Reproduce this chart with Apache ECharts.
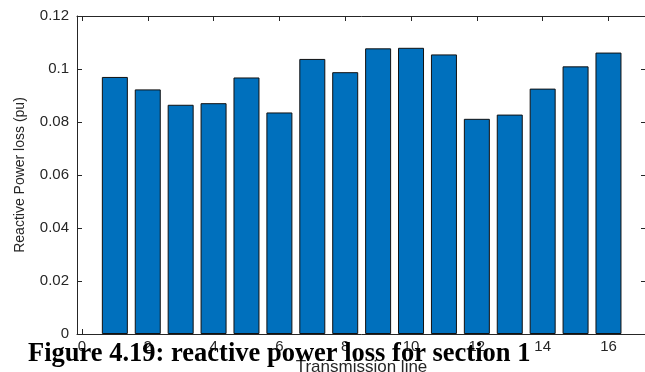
<!DOCTYPE html>
<html>
<head>
<meta charset="utf-8">
<script src="https://cdn.jsdelivr.net/npm/echarts@6/dist/echarts.min.js"></script>
<style>
html,body{margin:0;padding:0;background:#fff;}
#c{width:645px;height:372px;}
</style>
</head>
<body>
<div id="c"></div>
<script>
const lines = [1,2,3,4,5,6,7,8,9,10,11,12,13,14,15,16];
const lossValues = [0.0970,0.0923,0.0865,0.0871,0.0968,0.0836,0.1038,0.0988,0.1078,0.1080,0.1055,0.0812,0.0828,0.0926,0.1010,0.1062];
const xTicks = [0,2,4,6,8,10,12,14,16];
const yTicks = [0,0.02,0.04,0.06,0.08,0.1,0.12];
const captionText = 'Figure 4.19: reactive power loss for section 1';
const xName = 'Transmission line';
const yName = 'Reactive Power loss (pu)';

const axisColor = '#262626';
const tickFont = {fontFamily:'Liberation Sans, Arial, sans-serif', fontSize:15, color:'#262626'};

const chart = echarts.init(document.getElementById('c'), null, {renderer:'canvas'});
const xBase = {
  type:'value', min:-0.15, max:17.14,
  splitLine:{show:false},
  axisLine:{show:true, onZero:false, lineStyle:{color:axisColor, width:1}},
  axisTick:{show:true, inside:true, length:5, customValues:xTicks, lineStyle:{color:axisColor}},
};
const yBase = {
  type:'value', min:0, max:0.12, interval:0.02,
  splitLine:{show:false},
  axisLine:{show:true, onZero:false, lineStyle:{color:axisColor, width:1}},
  axisTick:{show:true, inside:true, length:5, lineStyle:{color:axisColor}},
};
chart.setOption({
  animation:false,
  grid:{left:77, right:-1, top:16, bottom:38, containLabel:false, outerBoundsMode:'none'},
  xAxis:[
    Object.assign({}, xBase, {
      position:'bottom',
      name:xName, nameLocation:'middle', nameGap:24,
      nameTextStyle:{fontFamily:'Liberation Sans, Arial, sans-serif', fontSize:17, color:'#262626'},
      axisLabel:Object.assign({show:true, margin:5, customValues:xTicks, formatter:v=>String(v)}, tickFont)
    }),
    Object.assign({}, xBase, {position:'top', axisLabel:{show:false}})
  ],
  yAxis:[
    Object.assign({}, yBase, {
      position:'left',
      name:yName, nameLocation:'middle', nameGap:50, nameRotate:90,
      nameTextStyle:{fontFamily:'Liberation Sans Narrow, Arial Narrow, sans-serif', fontSize:14, color:'#262626'},
      axisLabel:Object.assign({show:true, margin:8, formatter:v=>String(+v.toFixed(2))}, tickFont)
    }),
    Object.assign({}, yBase, {position:'right', axisLabel:{show:false}})
  ],
  series:[{
    type:'bar',
    xAxisIndex:0, yAxisIndex:0,
    barWidth:26,
    data: lines.map((x,i)=>[x, lossValues[i]]),
    itemStyle:{color:'#0070BD', borderColor:'#111', borderWidth:1}
  }],
  graphic:[{
    type:'text', left:28, top:341, z:100,
    style:{text:captionText, font:'bold 26.5px "Liberation Serif", "Times New Roman", serif', fill:'#000'}
  }]
});
</script>
</body>
</html>
